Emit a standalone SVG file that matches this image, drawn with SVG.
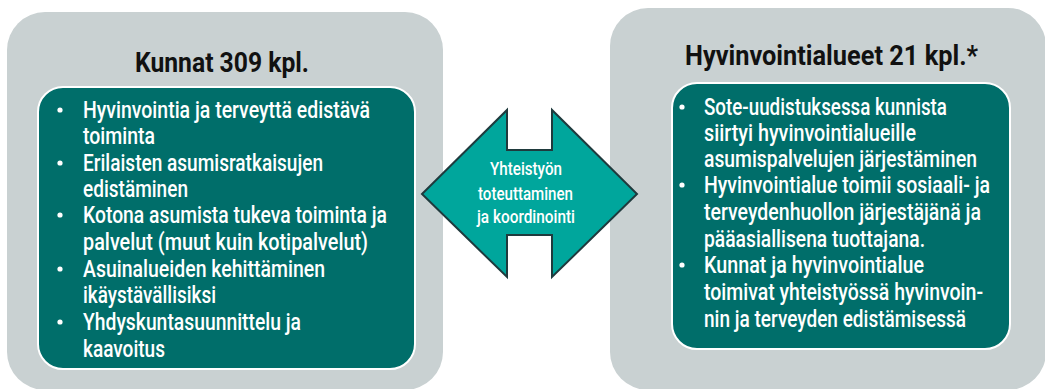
<svg xmlns="http://www.w3.org/2000/svg" width="1045" height="389" viewBox="0 0 1045 389">
<style>
.outer{fill:#c9d1d2}
.inner{fill:#006e6a;stroke:#ffffff;stroke-width:2}
.title{font-family:Roboto,"DejaVu Sans Condensed",sans-serif;font-weight:bold;font-size:27.5px;fill:#111111}
.item{font-family:Roboto,"DejaVu Sans Condensed",sans-serif;font-weight:500;font-size:23.5px;fill:#ffffff}
.bul{fill:#ffffff}
.arrow{fill:#00a69c;stroke:#1f3a3d;stroke-width:2;stroke-linejoin:miter}
.alab{font-family:Roboto,"DejaVu Sans Condensed",sans-serif;font-weight:500;font-size:18px;fill:#ffffff}
</style>
<rect width="1045" height="389" fill="#ffffff"/>
<g id="kunnat">
<rect class="outer" x="7" y="12" width="436" height="378" rx="38"/>
<text class="title" x="135" y="72" textLength="174" lengthAdjust="spacingAndGlyphs">Kunnat 309 kpl.</text>
<rect class="inner" x="38" y="87" width="377" height="282" rx="25"/>
<g class="bul">
<circle cx="60" cy="110" r="2.6"/>
<circle cx="60" cy="163" r="2.6"/>
<circle cx="60" cy="215" r="2.6"/>
<circle cx="60" cy="269" r="2.6"/>
<circle cx="60" cy="322" r="2.6"/>
</g>
<text class="item" x="83" y="118" textLength="287" lengthAdjust="spacingAndGlyphs">Hyvinvointia ja terveyttä edistävä</text>
<text class="item" x="83" y="144" textLength="72" lengthAdjust="spacingAndGlyphs">toiminta</text>
<text class="item" x="83" y="171" textLength="240" lengthAdjust="spacingAndGlyphs">Erilaisten asumisratkaisujen</text>
<text class="item" x="83" y="197" textLength="105" lengthAdjust="spacingAndGlyphs">edistäminen</text>
<text class="item" x="83" y="223" textLength="304" lengthAdjust="spacingAndGlyphs">Kotona asumista tukeva toiminta ja</text>
<text class="item" x="83" y="250" textLength="285" lengthAdjust="spacingAndGlyphs">palvelut (muut kuin kotipalvelut)</text>
<text class="item" x="83" y="277" textLength="242" lengthAdjust="spacingAndGlyphs">Asuinalueiden kehittäminen</text>
<text class="item" x="83" y="303" textLength="133" lengthAdjust="spacingAndGlyphs">ikäystävällisiksi</text>
<text class="item" x="83" y="330" textLength="218" lengthAdjust="spacingAndGlyphs">Yhdyskuntasuunnittelu ja</text>
<text class="item" x="83" y="357" textLength="82" lengthAdjust="spacingAndGlyphs">kaavoitus</text>
</g>
<g id="hyvinvointialueet">
<rect class="outer" x="610" y="8" width="436" height="382" rx="38"/>
<text class="title" x="685" y="65" textLength="293" lengthAdjust="spacingAndGlyphs">Hyvinvointialueet 21 kpl.*</text>
<rect class="inner" x="672" y="83" width="338" height="266" rx="25"/>
<g class="bul">
<circle cx="682" cy="107" r="2.6"/>
<circle cx="682" cy="185" r="2.6"/>
<circle cx="682" cy="265" r="2.6"/>
</g>
<text class="item" x="704" y="115" textLength="243" lengthAdjust="spacingAndGlyphs">Sote-uudistuksessa kunnista</text>
<text class="item" x="704" y="141" textLength="212" lengthAdjust="spacingAndGlyphs">siirtyi hyvinvointialueille</text>
<text class="item" x="704" y="167" textLength="273" lengthAdjust="spacingAndGlyphs">asumispalvelujen järjestäminen</text>
<text class="item" transform="translate(704,193) scale(0.85,1)" x="0" y="0" textLength="336.5" lengthAdjust="spacingAndGlyphs">Hyvinvointialue toimii sosiaali- ja</text>
<text class="item" x="704" y="220" textLength="277" lengthAdjust="spacingAndGlyphs">terveydenhuollon järjestäjänä ja</text>
<text class="item" x="704" y="247" textLength="221" lengthAdjust="spacingAndGlyphs">pääasiallisena tuottajana.</text>
<text class="item" x="704" y="273" textLength="220" lengthAdjust="spacingAndGlyphs">Kunnat ja hyvinvointialue</text>
<text class="item" x="704" y="300" textLength="279" lengthAdjust="spacingAndGlyphs">toimivat yhteistyössä hyvinvoin-</text>
<text class="item" x="704" y="327" textLength="262" lengthAdjust="spacingAndGlyphs">nin ja terveyden edistämisessä</text>
</g>
<g id="connectors">
<path class="arrow" d="M422,194 L507,110 L507,150 L552,150 L552,110 L637,194 L552,277 L552,235 L507,235 L507,277 Z"/>
<text class="alab" x="490" y="175" textLength="72" lengthAdjust="spacingAndGlyphs">Yhteistyön</text>
<text class="alab" x="478" y="200" textLength="95" lengthAdjust="spacingAndGlyphs">toteuttaminen</text>
<text class="alab" x="477" y="223" textLength="98" lengthAdjust="spacingAndGlyphs">ja koordinointi</text>
</g>
</svg>
